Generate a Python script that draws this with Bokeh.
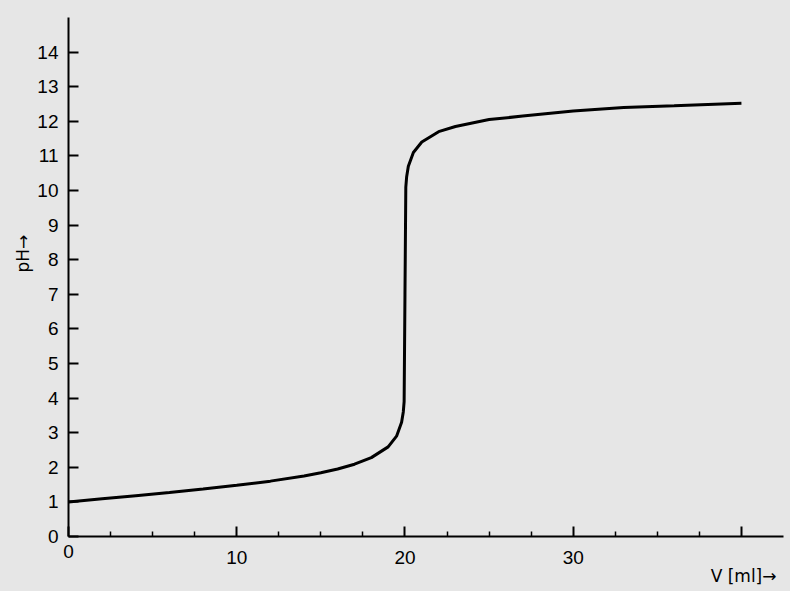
import math
from bokeh.plotting import figure
from bokeh.models import Range1d, FixedTicker, Label, LinearAxis
from bokeh.embed import file_html
from bokeh.resources import INLINE

# titration curve
volume_ml = [0, 2, 4, 6, 8, 10, 12, 14, 15, 16, 17, 18, 19, 19.5, 19.8, 19.9, 19.95,
             20, 20.05, 20.1, 20.2, 20.5, 21, 22, 23, 24, 25, 27, 30, 33, 36, 40]
ph = [1.0, 1.09, 1.18, 1.27, 1.37, 1.48, 1.60, 1.75, 1.84, 1.95, 2.09, 2.28, 2.59, 2.9, 3.3, 3.6, 3.9,
      7.0, 10.1, 10.4, 10.7, 11.1, 11.4, 11.7, 11.85, 11.95, 12.05, 12.15, 12.3, 12.4, 12.45, 12.52]

x_major = [0, 10, 20, 30, 40]
x_minor = [2.5, 5, 7.5, 12.5, 15, 17.5, 22.5, 25, 27.5, 32.5, 35, 37.5]
y_ticks = list(range(0, 15))
x_axis_end = 42.5
y_axis_end = 15

BG = "#e6e6e6"
FONT = "Liberation Sans"
NAME_FONT = "DejaVu Sans"
TICK_SIZE = "19px"

# layout: canvas 790x591, origin of the axes at pixel (68, 536)
W, H = 790, 591
OX, OY = 68, 536
SX = (783 - OX) / x_axis_end      # px per ml
SY = (OY - 17) / y_axis_end       # px per pH unit


def dx(px):
    return (px - OX) / SX


def dy(py):
    return (OY - py) / SY


p = figure(width=W, height=H, x_range=Range1d(dx(0), dx(W)), y_range=Range1d(dy(H), dy(0)),
           output_backend="svg", toolbar_location=None, x_axis_location=None, y_axis_location=None,
           min_border=0, background_fill_color=BG, border_fill_color=BG, outline_line_color=None)
p.grid.visible = False

p.line(volume_ml, ph, line_color="black", line_width=3)

xa = LinearAxis(fixed_location=0, bounds=(0, x_axis_end),
                ticker=FixedTicker(ticks=x_major, minor_ticks=x_minor))
xa.major_label_overrides = {0: "", 40: ""}
xa.major_tick_in = 10
xa.major_tick_out = 0
xa.minor_tick_in = 5
xa.minor_tick_out = 0
xa.axis_line_width = 2
xa.major_tick_line_width = 2
xa.minor_tick_line_width = 1.5
xa.major_label_standoff = 14
xa.major_label_text_font = FONT
xa.major_label_text_font_size = TICK_SIZE
xa.major_label_text_color = "black"
p.add_layout(xa, "below")

ya = LinearAxis(fixed_location=0, bounds=(0, y_axis_end), ticker=FixedTicker(ticks=y_ticks))
ya.major_tick_in = 10
ya.major_tick_out = 0
ya.minor_tick_line_color = None
ya.axis_line_width = 2
ya.major_tick_line_width = 2
ya.major_label_standoff = 10
ya.major_label_text_font = FONT
ya.major_label_text_font_size = TICK_SIZE
ya.major_label_text_color = "black"
p.add_layout(ya, "left")

p.add_layout(Label(x=0, y=dy(551), text="0", text_align="center", text_baseline="middle",
                   text_font=FONT, text_font_size=TICK_SIZE, text_color="black"))
p.add_layout(Label(x=dx(776), y=dy(575), text="V [ml]→", text_align="right", text_baseline="middle",
                   text_font=NAME_FONT, text_font_size="17px", text_color="black"))
p.add_layout(Label(x=dx(22), y=dy(272), text="pH→", angle=math.pi / 2, text_align="left",
                   text_baseline="middle", text_font=NAME_FONT, text_font_size="17px", text_color="black"))

html = file_html(p, INLINE)
html = html.replace("</head>", "<style>body{background:#e6e6e6;}</style></head>", 1)
open("out.html", "w").write(html)
